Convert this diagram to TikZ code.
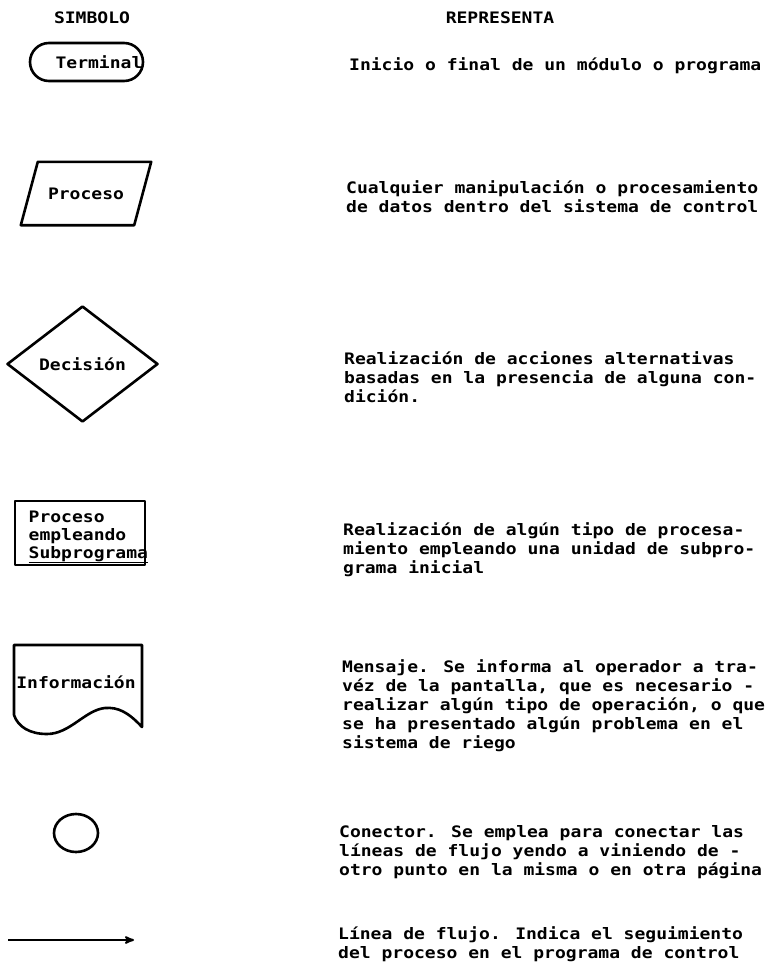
\documentclass[tikz,border=0pt]{standalone}
\usepackage{fontspec}
\newfontfamily\maquina[FakeStretch=1.14]{DejaVu Sans Mono}
\usetikzlibrary{arrows,shapes.geometric,shapes.misc,positioning}
\tikzset{
	>=stealth',
	letra/.style={font=\maquina\bfseries\fontsize{15.8}{19}\selectfont},
	texto/.style={
		letra,
		inner sep=0pt,
		align=left,
		anchor=base west},
	simbolo/.style={
		draw=black, line width=2.6pt,
		line join=round,
		inner sep=0pt,
		letra},
	terminal/.style={simbolo, rounded rectangle,
		minimum width=113, minimum height=38},
	proceso/.style={letra, rectangle, inner sep=0pt,
		minimum width=113, minimum height=63},
	decision/.style={simbolo, diamond,
		minimum width=151, minimum height=116},
	subprograma/.style={simbolo, rectangle,
		minimum width=130, minimum height=64},
	conector/.style={simbolo, ellipse,
		minimum width=44, minimum height=38},
	flujo/.style={draw, line width=2pt, ->},
}

\begin{document}
\begin{tikzpicture}[x=1pt, y=-1pt]
	\useasboundingbox (0,0) rectangle (768,963);

	% encabezados
	\node[texto, anchor=base] (hsimb) at (92,23.5) {SIMBOLO};
	\node[texto, anchor=base] (hrep) at (500,23.5) {REPRESENTA};

	% columna de simbolos
	\node[terminal] (term) at (86.5,62) {};
	\node[letra, inner sep=0pt] (tterm) at (99,62) {Terminal};
	\node[proceso] (proc) at (86,193.5) {Proceso};
	\draw[simbolo] ([xshift=8.5]proc.north west) -- ([xshift=8.5]proc.north east)
		-- ([xshift=-8.5]proc.south east) -- ([xshift=-8.5]proc.south west) -- cycle;
	\node[decision] (dec) at (82.5,364) {Decisión};
	\node[subprograma] (sub) at (80,533) {};
	\node[texto] (tsub) at (28.5,558) {Proceso\\[-1pt]empleando\\[-1pt]\underline{Subprograma}};
	\draw[simbolo] (14,645) -- (142,645) -- (142,727)
		.. controls (128,712) and (118,707) .. (105,708)
		.. controls (85,710) and (70,734) .. (47,734)
		.. controls (30,734) and (18,727) .. (14,715) -- cycle;
	\node[letra, inner sep=0pt] (tinfo) at (76,682) {Información};
	\node[conector] (con) at (76,833) {};
	\coordinate (f1) at (8,940);
	\coordinate (f2) at (134,940);
	\draw[flujo] (f1) -- (f2);

	% columna de descripciones (base = ultima linea)
	\node[texto] (dterm) at (349,70.5) {Inicio o final de un módulo o programa};
	\node[texto] (dproc) at (346,212.5) {Cualquier manipulación o procesamiento\\de datos dentro del sistema de control};
	\node[texto] (ddec) at (344,402.5) {Realización de acciones alternativas\\basadas en la presencia de alguna con-\\dición.};
	\node[texto] (dsub) at (343,573.5) {Realización de algún tipo de procesa-\\miento empleando una unidad de subpro-\\grama inicial};
	\node[texto] (dinfo) at (342,748.5) {Mensaje. Se informa al operador a tra-\\véz de la pantalla, que es necesario -\\realizar algún tipo de operación, o que\\se ha presentado algún problema en el\\sistema de riego};
	\node[texto] (dcon) at (339,875.5) {Conector. Se emplea para conectar las\\líneas de flujo yendo a viniendo de -\\otro punto en la misma o en otra página};
	\node[texto] (dflujo) at (338,958.5) {Línea de flujo. Indica el seguimiento\\del proceso en el programa de control};
\end{tikzpicture}
\end{document}
